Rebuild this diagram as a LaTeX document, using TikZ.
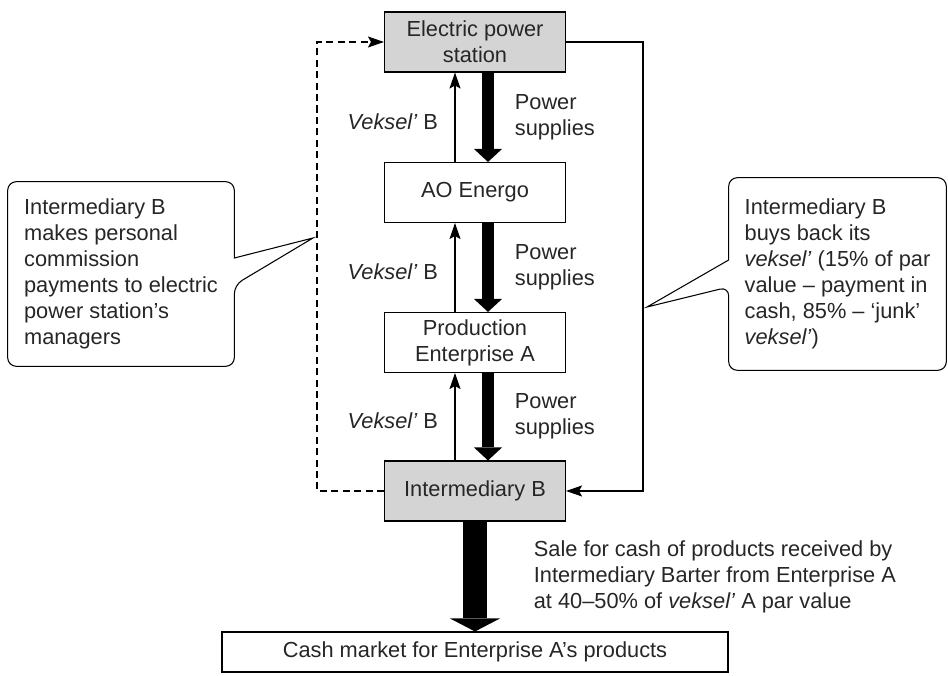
\documentclass[tikz,border=0pt]{standalone}
\usepackage{fontspec}
\setmainfont{Liberation Sans}
\usetikzlibrary{arrows.meta}
\tikzset{
    BX/.style ={rectangle,minimum width = 3.62cm, minimum height = 1.2cm, draw, line width=0.6pt, align=center},
    BXG/.style ={BX, fill=black!17},
    NT/.style ={rectangle, align=left, inner sep=0pt},
    NL/.style ={line width=0.6pt},
    TA/.style ={line width=0.7pt, -{Stealth[length=3.2mm,width=2.2mm,inset=0.6mm]}},
    PA/.style ={line width=0.24cm, -{Triangle[length=0.26cm,width=0.56cm,line width=0pt]}},
    PB/.style ={line width=0.48cm, -{Triangle[length=0.26cm,width=1cm,line width=0pt]}},
    SU/.style ={midway, align=left}}

\begin{document}
\begin{tikzpicture}[every node/.style={font=\fontsize{12.4}{14.8}\selectfont, text=black!85}]
        \useasboundingbox (0,0) rectangle (18.96,13.5);
        % chain of boxes
        \node[BXG] (eps) at(9.5,12.66){Electric power\\station};
        \node[BX] (ao) at(9.5,9.65){AO Energo};
        \node[BX] (pea) at(9.5,6.65){Production\\Enterprise A};
        \node[BXG] (ib) at(9.5,3.68){Intermediary B};
        \node[BX, minimum width=10.12cm, minimum height=0.8cm] (cm) at(9.5,0.46){Cash market for Enterprise A’s products};
        % power down, veksel' up
        \draw[PA] ([xshift=0.26cm]eps.south) --([xshift=0.26cm]ao.north) node[SU, right=0.3cm]{Power\\supplies};
        \draw[PA] ([xshift=0.26cm]ao.south) --([xshift=0.26cm]pea.north) node[SU, right=0.3cm]{Power\\supplies};
        \draw[PA] ([xshift=0.26cm]pea.south) --([xshift=0.26cm]ib.north) node[SU, right=0.3cm]{Power\\supplies};
        \draw[TA] ([xshift=-0.4cm]ao.north) --([xshift=-0.4cm]eps.south) node[SU, pos=0.45, left=0.21cm]{\textit{Veksel’} B};
        \draw[TA] ([xshift=-0.4cm]pea.north) --([xshift=-0.4cm]ao.south) node[SU, pos=0.45, left=0.21cm]{\textit{Veksel’} B};
        \draw[TA] ([xshift=-0.4cm]ib.north) --([xshift=-0.4cm]pea.south) node[SU, pos=0.45, left=0.21cm]{\textit{Veksel’} B};
        \draw[PB] (ib.south) --(cm.north) node[SU, right=0.82cm]{Sale for cash of products received by\\Intermediary Barter from Enterprise A\\at 40–50\% of \textit{veksel’} A par value};
        % side loops
        \draw[TA, dash pattern=on 4pt off 2.5pt] (ib.west) -- ++(-1.34,0) |- (eps.west);
        \draw[TA] (eps.east) -- ++(1.54,0) |- (ib.east);
        % callouts
        \node[NT, minimum width=4.52cm, minimum height=3.68cm] (ln) at(2.42,8.02){Intermediary B\\makes personal\\commission\\payments to electric\\power station’s\\managers};
        \coordinate (lt) at(6.26,8.74);
        \draw[NL] ([yshift=0.32cm]ln.east) [rounded corners=5pt] --(ln.north east) --(ln.north west) --(ln.south west) --(ln.south east) --([yshift=-0.22cm]ln.east) [sharp corners] --(lt) --cycle;
        \node[NT, minimum width=4.34cm, minimum height=3.84cm] (rn) at(16.75,8.02){Intermediary B\\buys back its\\\textit{veksel’} (15\% of par\\value – payment in\\cash, 85\% – ‘junk’\\\textit{veksel’})};
        \coordinate (rt) at(12.94,7.36);
        \draw[NL] ([yshift=0.28cm]rn.west) [rounded corners=5pt] --(rn.north west) --(rn.north east) --(rn.south east) --(rn.south west) --([yshift=-0.26cm]rn.west) [sharp corners] --(rt) --cycle;
    \end{tikzpicture}
\end{document}
